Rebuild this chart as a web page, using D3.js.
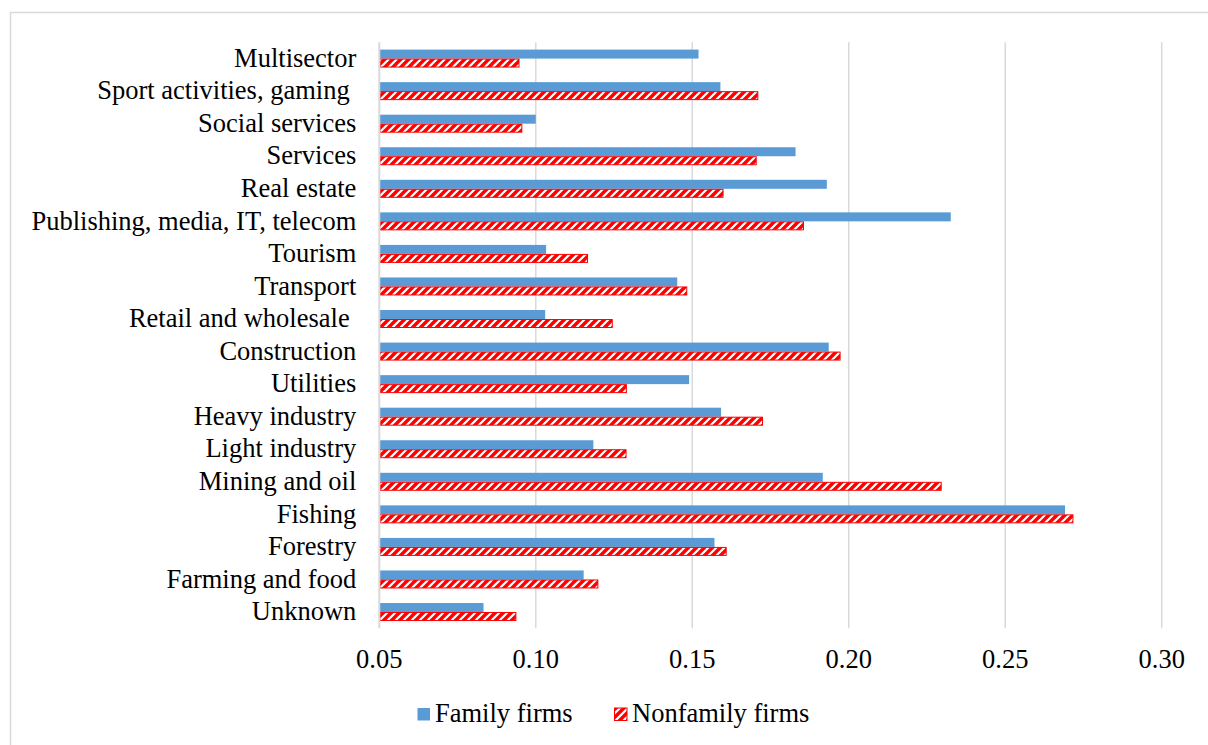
<!DOCTYPE html>
<html>
<head>
<meta charset="utf-8">
<script src="https://cdn.jsdelivr.net/npm/d3@7/dist/d3.min.js"></script>
<style>
  html, body { margin: 0; padding: 0; background: #fff; }
  svg { display: block; }
</style>
</head>
<body>
<svg id="chart" width="1208" height="745"></svg>
<script>
// Sectors, listed top to bottom
const categories = [
  "Multisector",
  "Sport activities, gaming ",
  "Social services",
  "Services",
  "Real estate",
  "Publishing, media, IT, telecom",
  "Tourism",
  "Transport",
  "Retail and wholesale ",
  "Construction",
  "Utilities",
  "Heavy industry",
  "Light industry",
  "Mining and oil",
  "Fishing",
  "Forestry",
  "Farming and food",
  "Unknown"
];

const familyFirms = [
  0.152, 0.159, 0.100, 0.183, 0.193, 0.2326, 0.1033, 0.1452, 0.103,
  0.1936, 0.149, 0.1592, 0.1184, 0.1917, 0.2691, 0.1571, 0.1153, 0.0833
];

const nonfamilyFirms = [
  0.0948, 0.1711, 0.0957, 0.1706, 0.160, 0.1857, 0.1167, 0.1484, 0.1246,
  0.1974, 0.1291, 0.1726, 0.129, 0.2297, 0.2718, 0.161, 0.120, 0.0938
];

const seriesNames = ["Family firms", "Nonfamily firms"];
const xTicks = [0.05, 0.10, 0.15, 0.20, 0.25, 0.30];

const svg = d3.select("#chart");
const FONT = 26.5;
const FAMILY = "'Liberation Serif', 'Times New Roman', Tinos, 'DejaVu Serif', serif";
const GRID = "#D9D9D9";
const BLUE = "#5B9BD5";
const RED = "#FF0000";

// Hatch fill for the nonfamily series: red ground with white upward diagonals
const defs = svg.append("defs");
const pat = defs.append("pattern")
  .attr("id", "hatch")
  .attr("patternUnits", "userSpaceOnUse")
  .attr("width", 8).attr("height", 8);
pat.append("rect").attr("width", 8).attr("height", 8).attr("fill", RED);
pat.append("path")
  .attr("d", "M-2,10 L10,-2 M-2,2 L2,-2 M6,10 L10,6")
  .attr("stroke", "#fff").attr("stroke-width", 2.2);

// Outer chart frame
svg.append("rect")
  .attr("x", 10.5).attr("y", 12.5)
  .attr("width", 1400).attr("height", 900)
  .attr("fill", "none").attr("stroke", GRID).attr("stroke-width", 1.5);

const plot = { left: 379.3, right: 1161.7, top: 42.3, bottom: 628.3 };

const x = d3.scaleLinear().domain([0.05, 0.30]).range([plot.left, plot.right]);
const y = d3.scaleBand().domain(categories).range([plot.top, plot.bottom]).padding(0);
const ySub = d3.scaleBand().domain(seriesNames).range([0, y.bandwidth()])
  .paddingInner(0).paddingOuter(0.81);

// Vertical gridlines
svg.append("g").selectAll("line")
  .data(xTicks.slice(1))
  .join("line")
  .attr("x1", d => x(d)).attr("x2", d => x(d))
  .attr("y1", plot.top).attr("y2", plot.bottom)
  .attr("stroke", GRID).attr("stroke-width", 1.5);

// Bars
const rows = categories.map((c, i) => ({ c, fam: familyFirms[i], non: nonfamilyFirms[i] }));

svg.append("g").selectAll("rect")
  .data(rows)
  .join("rect")
  .attr("x", x(0.05))
  .attr("y", d => y(d.c) + ySub("Family firms"))
  .attr("width", d => x(d.fam) - x(0.05))
  .attr("height", ySub.bandwidth())
  .attr("fill", BLUE);

svg.append("g").selectAll("rect")
  .data(rows)
  .join("rect")
  .attr("x", x(0.05) + 0.5)
  .attr("y", d => y(d.c) + ySub("Nonfamily firms") + 0.5)
  .attr("width", d => x(d.non) - x(0.05) - 1)
  .attr("height", ySub.bandwidth() - 1)
  .attr("fill", "url(#hatch)")
  .attr("stroke", RED).attr("stroke-width", 1);

// Category axis line
svg.append("line")
  .attr("x1", x(0.05)).attr("x2", x(0.05))
  .attr("y1", plot.top).attr("y2", plot.bottom)
  .attr("stroke", GRID).attr("stroke-width", 2);

// Category labels
svg.append("g").selectAll("text")
  .data(categories)
  .join("text")
  .attr("x", plot.left - 23)
  .attr("y", d => y(d) + y.bandwidth() / 2 + 8.2)
  .attr("text-anchor", "end")
  .attr("font-family", FAMILY)
  .attr("font-size", FONT)
  .attr("fill", "#000")
  .style("white-space", "pre")
  .attr("xml:space", "preserve")
  .text(d => d);

// Value axis tick labels
svg.append("g").selectAll("text")
  .data(xTicks)
  .join("text")
  .attr("x", d => x(d))
  .attr("y", 668)
  .attr("text-anchor", "middle")
  .attr("font-family", FAMILY)
  .attr("font-size", FONT)
  .attr("fill", "#000")
  .text(d => d3.format(".2f")(d));

// Legend
const legend = [
  { name: seriesNames[0], fill: BLUE, stroke: "none", sx: 417, tx: 435 },
  { name: seriesNames[1], fill: "url(#hatch)", stroke: RED, sx: 614, tx: 632 }
];
const lg = svg.append("g").selectAll("g").data(legend).join("g");
lg.append("rect")
  .attr("x", d => d.sx + 0.5).attr("y", 708)
  .attr("width", 12.5).attr("height", 12.5)
  .attr("fill", d => d.fill)
  .attr("stroke", d => d.stroke).attr("stroke-width", 1);
lg.append("text")
  .attr("x", d => d.tx).attr("y", 721.5)
  .attr("font-family", FAMILY)
  .attr("font-size", FONT)
  .attr("fill", "#000")
  .text(d => d.name);
</script>
</body>
</html>
